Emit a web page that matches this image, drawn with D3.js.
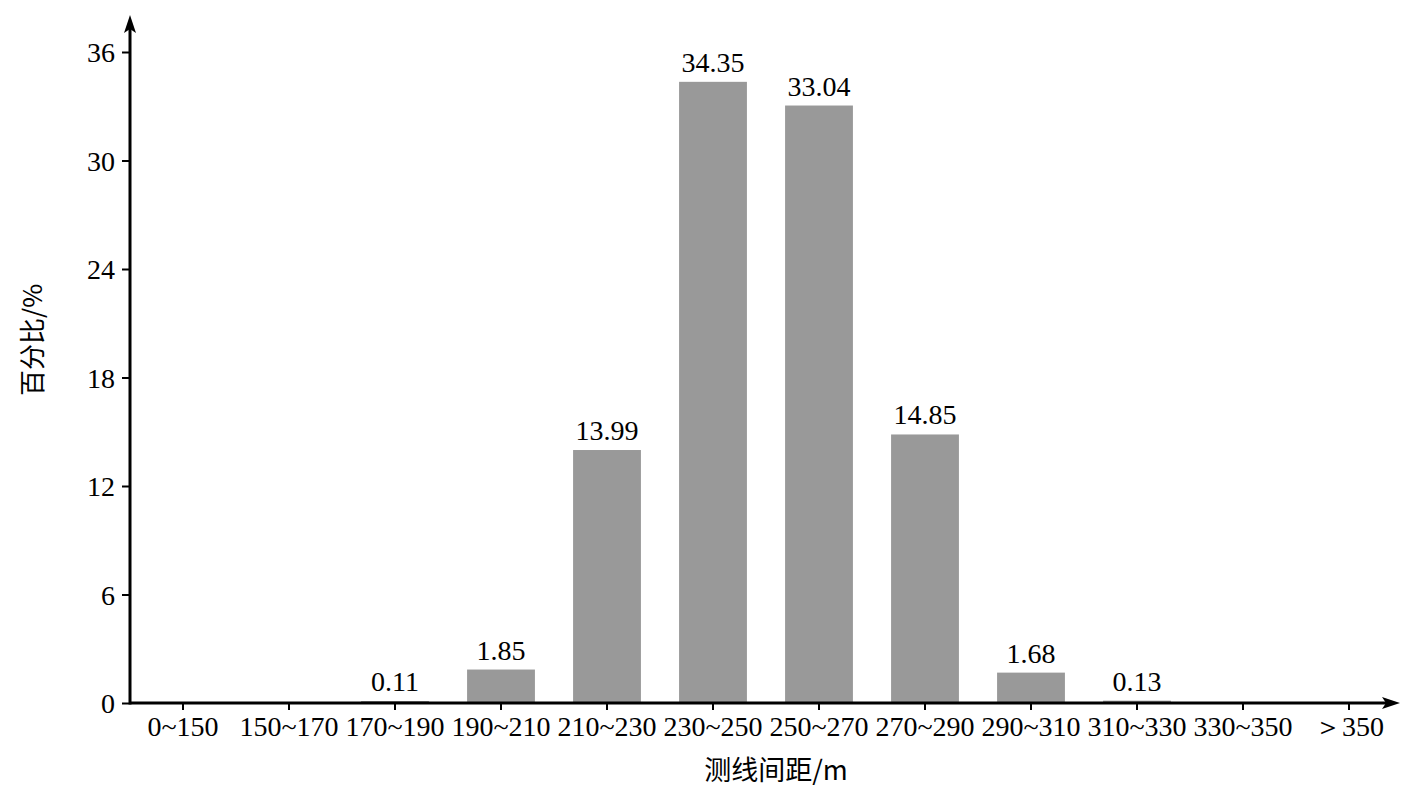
<!DOCTYPE html>
<html><head><meta charset="utf-8">
<script src="https://cdn.jsdelivr.net/npm/d3@7"></script>
<style>body{margin:0;background:#fff}svg{display:block}</style>
</head><body>
<svg id="c" width="1417" height="800"></svg>
<script>
const categories = ["0~150","150~170","170~190","190~210","210~230","230~250","250~270","270~290","290~310","310~330","330~350","\uFF1E350"];
const values = [0,0,0.11,1.85,13.99,34.35,33.04,14.85,1.68,0.13,0.03,0];
const valueLabels = ["","","0.11","1.85","13.99","34.35","33.04","14.85","1.68","0.13","",""];
const yTicks = [0,6,12,18,24,30,36];
const xTitle = "测线间距/m";
const yTitle = "百分比/%";

const svg = d3.select("#c");
const x0 = 130, x1 = 1402, yBase = 703, yTop = 52;
const serif = "'Liberation Serif','Times New Roman',serif";
const cjk = "'Noto Sans CJK SC','Liberation Serif',serif";

const x = d3.scaleBand().domain(categories).range([x0, x1]).paddingInner(0.36).paddingOuter(0.18);
const y = d3.scaleLinear().domain([0, 36]).range([yBase, yTop]);

// bars
svg.append("g").selectAll("rect").data(values).join("rect")
  .attr("x", (d,i) => x(categories[i]))
  .attr("width", x.bandwidth())
  .attr("y", d => y(d))
  .attr("height", d => yBase - y(d))
  .attr("fill", "#999999");

// value labels
svg.append("g").selectAll("text").data(values).join("text")
  .attr("x", (d,i) => x(categories[i]) + x.bandwidth()/2)
  .attr("y", d => y(d) - 10)
  .attr("text-anchor", "middle")
  .attr("font-family", serif).attr("font-size", 28)
  .text((d,i) => valueLabels[i]);

// y axis
const yAxis = d3.axisLeft(y).tickValues(yTicks).tickSize(8).tickPadding(7).tickFormat(d3.format("d"));
const gy = svg.append("g").attr("transform", `translate(${x0},0)`).call(yAxis);
gy.select(".domain").remove();
gy.selectAll(".tick line").attr("stroke", "#000").attr("stroke-width", 2);
gy.selectAll(".tick text").attr("font-family", serif).attr("font-size", 28).attr("fill", "#000").attr("dy", "0.35em");

// x axis
const xAxis = d3.axisBottom(x).tickSize(7).tickPadding(5);
const gx = svg.append("g").attr("transform", `translate(0,${yBase})`).call(xAxis);
gx.select(".domain").remove();
gx.selectAll(".tick line").attr("stroke", "#000").attr("stroke-width", 2);
gx.selectAll(".tick text").attr("font-family", serif).attr("font-size", 28).attr("fill", "#000").attr("dy", "0.75em");

// axis lines with arrows
svg.append("line").attr("x1", x0).attr("y1", yBase).attr("x2", 1390).attr("y2", yBase).attr("stroke", "#000").attr("stroke-width", 3);
svg.append("path").attr("d", `M1400,${yBase} L1382,${yBase-6} L1386,${yBase} L1382,${yBase+6} Z`).attr("fill", "#000");
svg.append("line").attr("x1", x0).attr("y1", yBase+1.5).attr("x2", x0).attr("y2", 26).attr("stroke", "#000").attr("stroke-width", 3);
svg.append("path").attr("d", `M${x0},15 L${x0-6},33 L${x0},29 L${x0+6},33 Z`).attr("fill", "#000");

// titles
svg.append("text").attr("x", 776).attr("y", 780).attr("text-anchor", "middle")
  .attr("font-family", cjk).attr("font-size", 27).text(xTitle);
svg.append("text").attr("transform", "translate(42,340) rotate(-90)").attr("text-anchor", "middle")
  .attr("font-family", cjk).attr("font-size", 26).text(yTitle);
</script>
</body></html>
